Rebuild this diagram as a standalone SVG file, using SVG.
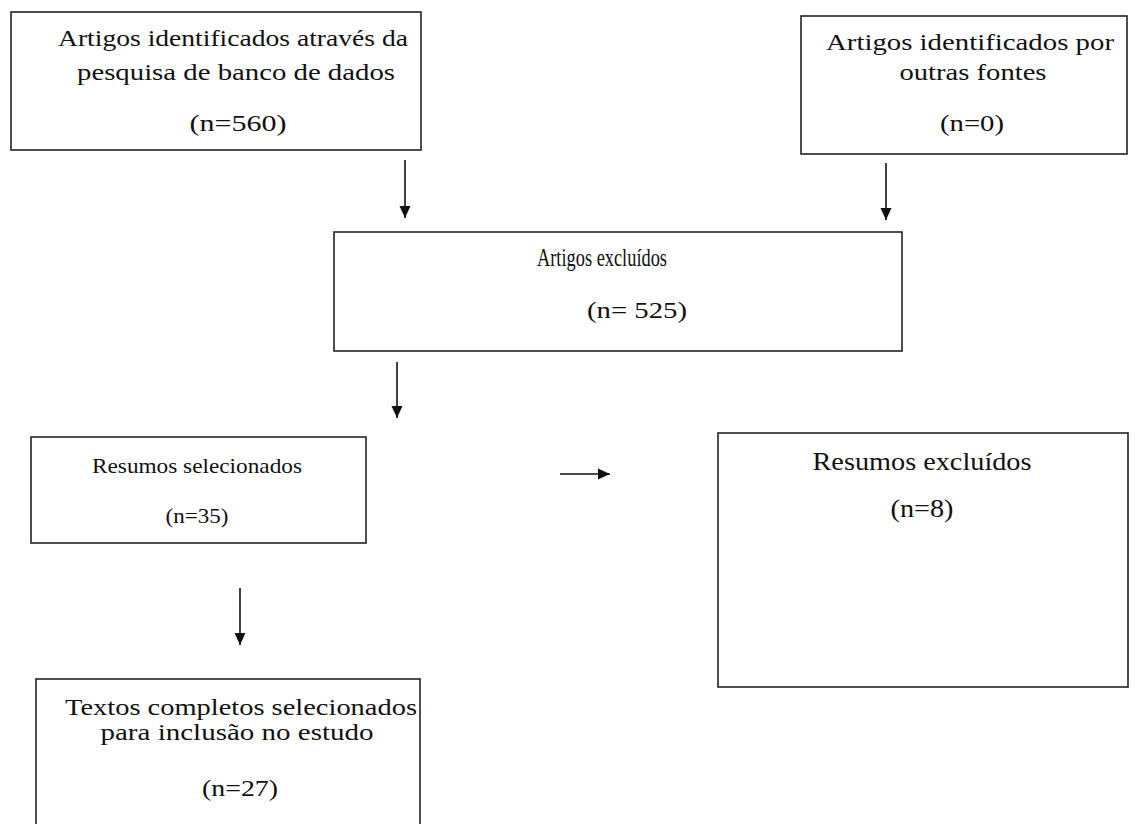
<svg xmlns="http://www.w3.org/2000/svg" width="1137" height="824" viewBox="0 0 1137 824">
<style>
.box{fill:#fff;stroke:#222;stroke-width:1.6}
.t{font-family:"Liberation Serif","Times New Roman",serif;font-size:23px;fill:#111;text-anchor:middle}
.c{stroke:#111;stroke-width:1.6;fill:none}
</style>
<defs>
<marker id="ah" viewBox="0 0 12 12" refX="12" refY="6" markerWidth="12" markerHeight="12" markerUnits="userSpaceOnUse" orient="auto">
<path d="M0,0.5 L12,6 L0,11.5 z" fill="#111"/>
</marker>
</defs>
<rect width="1137" height="824" fill="#fff"/>
<g id="n1">
<rect class="box" x="11" y="12" width="410" height="138"/>
<text class="t" x="233" y="46" textLength="350" lengthAdjust="spacingAndGlyphs">Artigos identificados através da</text>
<text class="t" x="236" y="80" textLength="318" lengthAdjust="spacingAndGlyphs">pesquisa de banco de dados</text>
<text class="t" x="238" y="131" textLength="97" lengthAdjust="spacingAndGlyphs">(n=560)</text>
</g>
<g id="n2">
<rect class="box" x="801" y="16" width="326" height="138"/>
<text class="t" x="970" y="50" textLength="288" lengthAdjust="spacingAndGlyphs">Artigos identificados por</text>
<text class="t" x="973" y="80" textLength="147" lengthAdjust="spacingAndGlyphs">outras fontes</text>
<text class="t" x="972" y="131" textLength="64" lengthAdjust="spacingAndGlyphs">(n=0)</text>
</g>
<g id="n3">
<rect class="box" x="334" y="232" width="568" height="119"/>
<text class="t" x="602" y="266" style="font-size:25px" textLength="130" lengthAdjust="spacingAndGlyphs">Artigos excluídos</text>
<text class="t" x="637" y="318" style="font-size:24px" textLength="100" lengthAdjust="spacingAndGlyphs">(n= 525)</text>
</g>
<g id="n4">
<rect class="box" x="31" y="437" width="335" height="106"/>
<text class="t" x="197" y="473" style="font-size:22px" textLength="210" lengthAdjust="spacingAndGlyphs">Resumos selecionados</text>
<text class="t" x="197" y="523" style="font-size:22px" textLength="63" lengthAdjust="spacingAndGlyphs">(n=35)</text>
</g>
<g id="n5">
<rect class="box" x="718" y="433" width="410" height="254"/>
<text class="t" x="922" y="470" style="font-size:25px" textLength="219" lengthAdjust="spacingAndGlyphs">Resumos excluídos</text>
<text class="t" x="922" y="517" style="font-size:25px" textLength="63" lengthAdjust="spacingAndGlyphs">(n=8)</text>
</g>
<g id="n6">
<rect class="box" x="36" y="679" width="384" height="160"/>
<text class="t" x="241" y="715" style="font-size:24px" textLength="352" lengthAdjust="spacingAndGlyphs">Textos completos selecionados</text>
<text class="t" x="237" y="740" style="font-size:24px" textLength="273" lengthAdjust="spacingAndGlyphs">para inclusão no estudo</text>
<text class="t" x="240" y="796" style="font-size:24px" textLength="76" lengthAdjust="spacingAndGlyphs">(n=27)</text>
</g>
<g id="connectors">
<line class="c" x1="405" y1="160" x2="405" y2="218" marker-end="url(#ah)"/>
<line class="c" x1="886" y1="163" x2="886" y2="220" marker-end="url(#ah)"/>
<line class="c" x1="397" y1="362" x2="397" y2="418" marker-end="url(#ah)"/>
<line class="c" x1="560" y1="474" x2="610" y2="474" marker-end="url(#ah)"/>
<line class="c" x1="240" y1="588" x2="240" y2="645" marker-end="url(#ah)"/>
</g>
</svg>
